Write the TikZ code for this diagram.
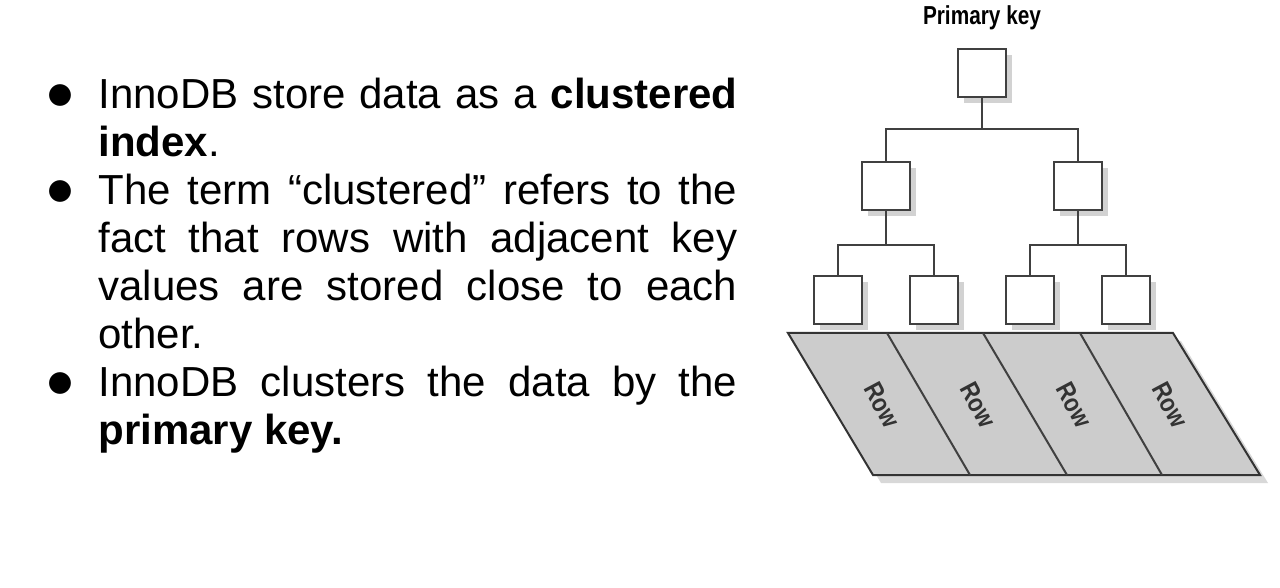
\documentclass[tikz,border=0pt]{standalone}
\usepackage{fontspec}
\setmainfont{Liberation Sans}
\usepackage{xcolor}
\usetikzlibrary{shadows}

\tikzset{
  key/.style={draw=black!75,fill=white,minimum size=24pt,inner sep=0pt,line width=1pt,
    drop shadow={shadow xshift=3pt,shadow yshift=-3pt,fill=black!35}},
  link/.style={draw=black!75,line width=1pt},
  rowlabel/.style={inner sep=0pt,font=\bfseries\fontsize{13}{13}\selectfont,rotate=-62,text=black!80}
}

\begin{document}
\begin{tikzpicture}[x=0.5pt,y=0.5pt]
  \useasboundingbox (0,0) rectangle (1280,-588);

  % text
  \node[anchor=north west,inner sep=0pt] (txt) at (40,-78) {%
    \begin{minipage}{348.5pt}
    \fontsize{21}{24}\selectfont
    \begin{list}{\raisebox{-0.5pt}{\scalebox{1.35}{$\bullet$}}}{\leftmargin=29pt\labelsep=12pt\labelwidth=15pt\itemsep=0pt\parsep=0pt\topsep=0pt}
      \item InnoDB store data as a \textbf{clustered}\linebreak \textbf{index}.
      \item The term “clustered” refers to the fact that rows with adjacent key values are stored close to each other.
      \item InnoDB clusters the data by the\linebreak \textbf{primary key.}
    \end{list}
    \end{minipage}};

  % title
  \node (pk) at (982,-18) {\scalebox{0.8}[1]{\bfseries\fontsize{13}{13}\selectfont Primary key}};

  % rows
  \draw[fill=black!20,draw=black!80,line width=1pt,
    drop shadow={shadow xshift=4pt,shadow yshift=-4pt,fill=black!30}]
    (788,-333) -- (1173,-333) -- (1260,-475) -- (873,-475) -- cycle;
  \draw[link] (887,-333) -- (970,-475);
  \draw[link] (983,-333) -- (1067,-475);
  \draw[link] (1080,-333) -- (1162,-475);
  \foreach \i/\x in {1/882,2/978,3/1074,4/1170}
    \node[rowlabel] (row\i) at (\x,-405) {\scalebox{0.85}[1]{Row}};

  % keys
  \node[key] (root) at (982,-73) {};
  \node[key] (l) at (886,-186) {};
  \node[key] (r) at (1078,-186) {};
  \node[key] (ll) at (838,-300) {};
  \node[key] (lr) at (934,-300) {};
  \node[key] (rl) at (1030,-300) {};
  \node[key] (rr) at (1126,-300) {};

  % links
  \draw[link] (root.south) -- ++(0,-31) -| (l.north);
  \draw[link] (root.south) -- ++(0,-31) -| (r.north);
  \draw[link] (l.south) -- ++(0,-34) -| (ll.north);
  \draw[link] (l.south) -- ++(0,-34) -| (lr.north);
  \draw[link] (r.south) -- ++(0,-34) -| (rl.north);
  \draw[link] (r.south) -- ++(0,-34) -| (rr.north);
\end{tikzpicture}
\end{document}
